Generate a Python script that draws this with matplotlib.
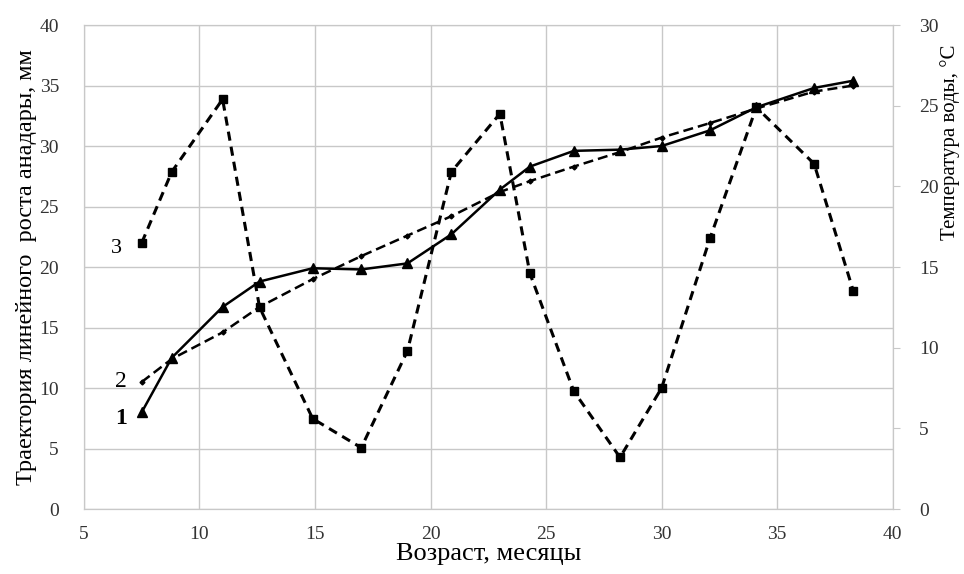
import matplotlib.pyplot as plt

plt.rcParams['font.family'] = ['Liberation Serif', 'DejaVu Serif']

# age, months
age = [7.5, 8.8, 11.0, 12.6, 14.9, 17.0, 19.0, 20.9, 23.0, 24.3, 26.2, 28.2, 30.0, 32.1, 34.1, 36.6, 38.3]
# 1 - observed growth trajectory, mm
growth = [8.0, 12.5, 16.7, 18.8, 19.9, 19.8, 20.3, 22.7, 26.4, 28.3, 29.6, 29.7, 30.0, 31.3, 33.2, 34.8, 35.4]
# 2 - model trajectory, mm
model = [10.5, 12.4, 14.6, 16.7, 19.0, 20.9, 22.6, 24.2, 26.2, 27.1, 28.3, 29.5, 30.7, 31.9, 33.1, 34.5, 35.0]
# 3 - water temperature, C
temp = [16.5, 20.9, 25.4, 12.5, 5.6, 3.8, 9.8, 20.9, 24.5, 14.6, 7.3, 3.2, 7.5, 16.8, 24.9, 21.4, 13.5]

fig = plt.figure(figsize=(9.64, 5.74), dpi=100)
ax = fig.add_axes([0.0871, 0.1132, 0.8389, 0.8432])
ax2 = ax.twinx()

gc = '#c8c8c8'
ax.plot(age, growth, color='black', lw=1.8, marker='^', ms=7, zorder=3)
ax.plot(age, model, color='black', lw=1.8, ls=(0, (4, 2)), marker='D', ms=2.5, zorder=3)
ax2.plot(age, temp, color='black', lw=2.2, ls=(0, (3, 2)), marker='s', ms=6)

ax.set_xlim(5, 40)
ax.set_ylim(0, 40)
ax2.set_ylim(0, 30)
ax.set_xticks(range(5, 41, 5))
ax.set_yticks(range(0, 41, 5))
ax2.set_yticks(range(0, 31, 5))
ax.grid(True, color=gc, lw=1)

for a in (ax, ax2):
    for s in a.spines.values():
        s.set_color(gc)
ax.tick_params(length=0, labelsize=14, colors='#333333')
ax.tick_params(axis='y', pad=18)
ax.tick_params(axis='x', pad=12)
ax2.tick_params(length=5, color=gc, labelsize=14, pad=14, labelcolor='#333333')

ax.set_xlabel('Возраст, месяцы', fontsize=19, labelpad=0)
ax.set_ylabel('Траектория линейного  роста анадары, мм', fontsize=17.5, labelpad=2)
# right label sits high, next to the upper half of the axis
fig.text(950 / 964, 1 - 142 / 574, 'Температура воды, °С', fontsize=15,
         rotation=90, ha='center', va='center')

ax.text(6.6, 7.5, '1', fontsize=17, fontweight='bold', va='center', ha='center')
ax.text(6.6, 10.5, '2', fontsize=17, va='center', ha='center')
ax.text(6.4, 21.5, '3', fontsize=16, va='center', ha='center')

fig.savefig('out.png', dpi=100)
